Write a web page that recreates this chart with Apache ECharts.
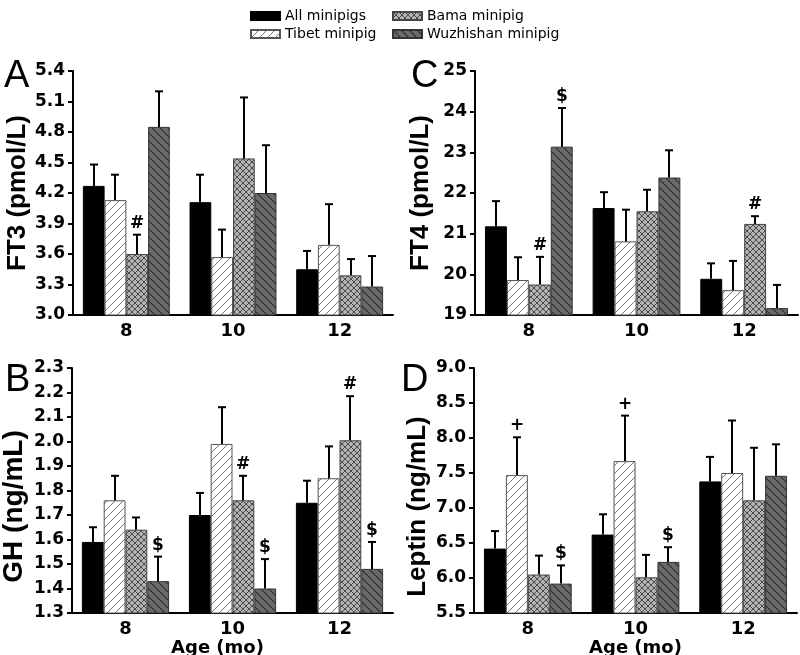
<!DOCTYPE html>
<html><head><meta charset="utf-8">
<script src="https://cdn.jsdelivr.net/npm/echarts@6/dist/echarts.min.js"></script>
<style>html,body{margin:0;padding:0;background:#fff}#c{width:800px;height:655px}</style>
</head><body><div id="c"></div>
<script>
// ---------- data ----------
const ages = ['8', '10', '12'];
const groups = ['All minipigs', 'Tibet minipig', 'Bama minipig', 'Wuzhishan minipig'];

// rows: All, Tibet, Bama, Wuzhishan ; columns: 8, 10, 12 mo
const ft3Mean = [[4.27, 4.11, 3.45], [4.13, 3.57, 3.69], [3.60, 4.54, 3.39], [4.85, 4.20, 3.28]];
const ft3Sem  = [[0.21, 0.27, 0.18], [0.25, 0.27, 0.40], [0.19, 0.60, 0.16], [0.35, 0.47, 0.30]];
const ft3Mark = [['', '', ''], ['', '', ''], ['#', '', ''], ['', '', '']];

const ft4Mean = [[21.18, 21.63, 19.89], [19.86, 20.81, 19.61], [19.75, 21.55, 21.24], [23.14, 22.38, 19.17]];
const ft4Sem  = [[0.62, 0.39, 0.38], [0.56, 0.78, 0.72], [0.68, 0.53, 0.19], [0.95, 0.67, 0.57]];
const ft4Mark = [['', '', ''], ['', '', ''], ['#', '', '#'], ['$', '', '']];

const ghMean = [[1.59, 1.70, 1.75], [1.76, 1.99, 1.85], [1.64, 1.76, 2.005], [1.43, 1.40, 1.48]];
const ghSem  = [[0.06, 0.09, 0.09], [0.10, 0.15, 0.13], [0.05, 0.10, 0.18], [0.10, 0.12, 0.11]];
const ghMark = [['', '', ''], ['', '', ''], ['', '#', '#'], ['$', '$', '$']];

const lepMean = [[6.42, 6.62, 7.38], [7.47, 7.67, 7.50], [6.05, 6.01, 7.11], [5.92, 6.23, 7.46]];
const lepSem  = [[0.25, 0.29, 0.35], [0.54, 0.65, 0.75], [0.27, 0.32, 0.75], [0.26, 0.21, 0.45]];
const lepMark = [['', '', ''], ['+', '+', ''], ['', '', ''], ['$', '$', '']];

const ft3Ticks = {min: 3.0, max: 5.4, interval: 0.3};
const ft4Ticks = {min: 19, max: 25, interval: 1};
const ghTicks  = {min: 1.3, max: 2.3, interval: 0.1};
const lepTicks = {min: 5.5, max: 9.0, interval: 0.5};

// ---------- styles ----------
function hatch(bg, fg, dirs, size, lw) {
  const c = document.createElement('canvas');
  c.width = size; c.height = size;
  const g = c.getContext('2d');
  g.fillStyle = bg; g.fillRect(0, 0, size, size);
  g.strokeStyle = fg; g.lineWidth = lw;
  dirs.forEach(d => {
    for (let k = -size; k <= size; k += size) {
      g.beginPath();
      if (d === '/') { g.moveTo(k, size); g.lineTo(k + size, 0); }
      else { g.moveTo(k, 0); g.lineTo(k + size, size); }
      g.stroke();
    }
  });
  return {image: c, repeat: 'repeat'};
}
const fills = [
  '#000000',
  hatch('#ffffff', '#777777', ['/'], 8, 1),
  hatch('#b3b3b3', '#4a4a4a', ['/', '\\'], 6, 1),
  hatch('#6a6a6a', '#2e2e2e', ['\\'], 8, 1.2)
];
const borders = ['#000000', '#555555', '#444444', '#333333'];
const GAP = 0.185;
const tickFont = {fontFamily: 'DejaVu Sans', fontWeight: 'bold', color: '#000'};

const panels = [
  {mean: ft3Mean, sem: ft3Sem, mark: ft3Mark, ticks: ft3Ticks, dec: 1, name: 'FT3 (pmol/L)', nameSize: 26,
   grid: {left: 73, top: 71, width: 320, height: 244}, nameGap: 38, namePad: 0, xName: ''},
  {mean: ft4Mean, sem: ft4Sem, mark: ft4Mark, ticks: ft4Ticks, dec: 0, name: 'FT4 (pmol/L)', nameSize: 26,
   grid: {left: 475, top: 71, width: 323, height: 244}, nameGap: 41, namePad: 0, xName: ''},
  {mean: ghMean, sem: ghSem, mark: ghMark, ticks: ghTicks, dec: 1, name: 'GH (ng/mL)', nameSize: 28,
   grid: {left: 72, top: 368, width: 321, height: 245}, nameGap: 44, namePad: 32, xName: 'Age (mo)'},
  {mean: lepMean, sem: lepSem, mark: lepMark, ticks: lepTicks, dec: 1, name: 'Leptin (ng/mL)', nameSize: 26,
   grid: {left: 474, top: 368, width: 323, height: 245}, nameGap: 43, namePad: 32, xName: 'Age (mo)'}
];

const grid = [], xAxis = [], yAxis = [], series = [];
panels.forEach((p, pi) => {
  grid.push(Object.assign({containLabel: false, outerBoundsMode: 'none'}, p.grid));
  xAxis.push({
    type: 'category', gridIndex: pi, data: ages,
    axisLine: {lineStyle: {color: '#000', width: 2}},
    axisTick: {show: false},
    axisLabel: Object.assign({fontSize: 18, margin: 7}, tickFont),
    name: p.xName, nameLocation: 'middle', nameGap: 19,
    nameTextStyle: Object.assign({fontSize: 18, padding: pi === 2 ? [0, 30, 0, 0] : 0}, tickFont)
  });
  yAxis.push({
    type: 'value', gridIndex: pi, min: p.ticks.min, max: p.ticks.max, interval: p.ticks.interval,
    splitLine: {show: false},
    axisLine: {show: true, lineStyle: {color: '#000', width: 2}},
    axisTick: {show: true, length: 5, lineStyle: {color: '#000', width: 2}},
    axisLabel: Object.assign({fontSize: 17, margin: 8, formatter: v => v.toFixed(p.dec)}, tickFont),
    name: p.name, nameLocation: 'middle', nameGap: p.nameGap,
    nameTextStyle: {fontFamily: 'Liberation Sans', fontWeight: 'bold', fontSize: p.nameSize, color: '#000',
      padding: [0, p.namePad, 0, 0]}
  });
  groups.forEach((gname, g) => {
    series.push({
      type: 'bar', name: gname, xAxisIndex: pi, yAxisIndex: pi,
      data: p.mean[g], barGap: '0%', barCategoryGap: (GAP * 100) + '%',
      itemStyle: {color: fills[g], borderColor: borders[g], borderWidth: 1},
      emphasis: {disabled: true}, silent: true
    });
  });
  const data = [];
  p.mean.forEach((row, g) => row.forEach((m, i) => data.push([i, m, p.sem[g][i], g])));
  series.push({
    type: 'custom', xAxisIndex: pi, yAxisIndex: pi, z: 5, silent: true,
    encode: {x: 0, y: 1}, data: data,
    renderItem: function (params, api) {
      const d = data[params.dataIndex];
      const i = d[0], m = d[1], s = d[2], g = d[3];
      const band = api.size([1, 0])[0];
      const bw = band * (1 - GAP) / 4;
      const base = api.coord([i, m]);
      const top = api.coord([i, m + s]);
      const x = Math.round(base[0] + (g - 1.5) * bw);
      const st = {stroke: '#000', lineWidth: 2};
      const children = [
        {type: 'line', shape: {x1: x, y1: base[1], x2: x, y2: top[1]}, style: st},
        {type: 'line', shape: {x1: x - 4, y1: top[1], x2: x + 4, y2: top[1]}, style: st}
      ];
      const mk = p.mark[g][i];
      if (mk) {
        children.push({type: 'text', x: x, y: top[1] - 3,
          style: {text: mk, fill: '#000', font: 'bold 17px "DejaVu Sans"', textAlign: 'center', textVerticalAlign: 'bottom'}});
      }
      return {type: 'group', children: children};
    }
  });
});

const legendBase = {
  orient: 'vertical', top: 4, itemGap: 4, itemWidth: 29, itemHeight: 8, icon: 'rect',
  textStyle: {fontFamily: 'DejaVu Sans', fontSize: 14, color: '#000'}, selectedMode: false
};

const letterStyle = (t) => ({type: 'text', style: {text: t, font: '38px "Liberation Sans"', fill: '#000'}});
const option = {
  animation: false,
  backgroundColor: '#fff',
  legend: [
    Object.assign({left: 245, data: [groups[0], groups[1]]}, legendBase),
    Object.assign({left: 387, data: [groups[2], groups[3]]}, legendBase)
  ],
  grid, xAxis, yAxis, series,
  graphic: [
    Object.assign(letterStyle('A'), {left: 4, top: 58}),
    Object.assign(letterStyle('C'), {left: 411, top: 58}),
    Object.assign(letterStyle('B'), {left: 5, top: 362}),
    Object.assign(letterStyle('D'), {left: 401, top: 362})
  ]
};
const chart = echarts.init(document.getElementById('c'), null, {renderer: 'canvas'});
chart.setOption(option);
</script></body></html>
